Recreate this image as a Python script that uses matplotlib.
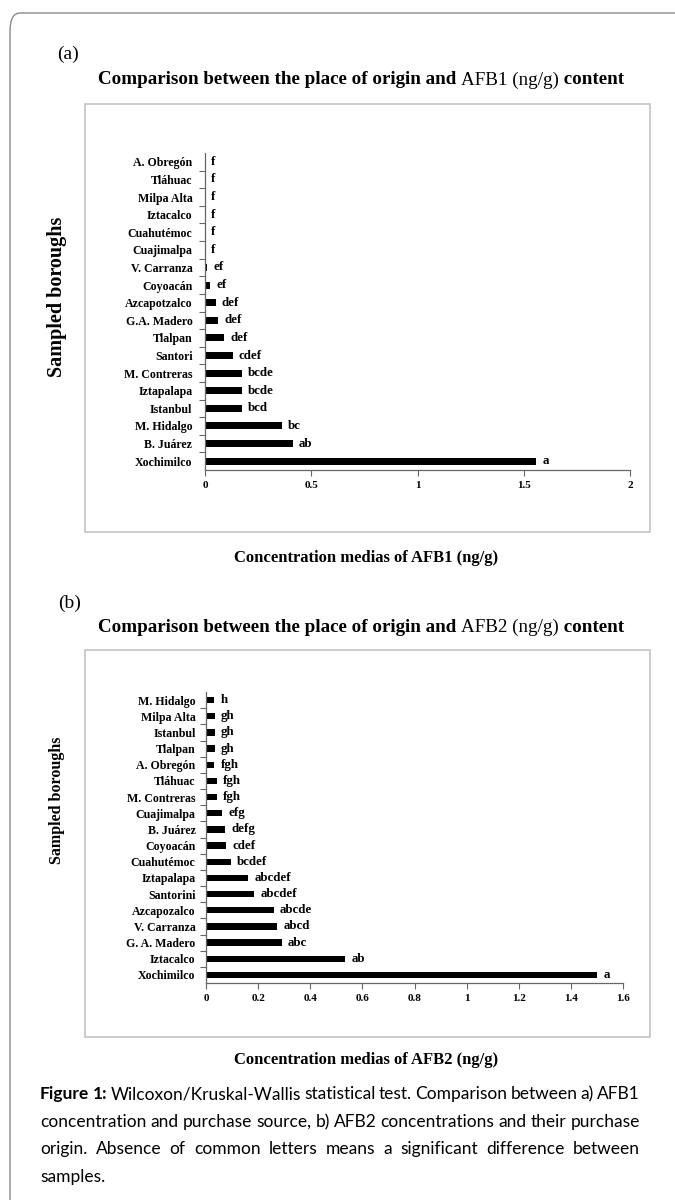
import numpy as np
import matplotlib
matplotlib.use("Agg")
import matplotlib.pyplot as plt
from matplotlib.patches import Rectangle, FancyBboxPatch

# -----------------------------
# Data
# -----------------------------
boroughs_a = ["A. Obregón", "Tláhuac", "Milpa Alta", "Iztacalco", "Cuahutémoc",
              "Cuajimalpa", "V. Carranza", "Coyoacán", "Azcapotzalco", "G.A. Madero",
              "Tlalpan", "Santori", "M. Contreras", "Iztapalapa", "Istanbul",
              "M. Hidalgo", "B. Juárez", "Xochimilco"]
afb1_means = [0.0, 0.0, 0.0, 0.0, 0.0, 0.0, 0.011, 0.024, 0.050, 0.063,
              0.091, 0.130, 0.172, 0.172, 0.172, 0.361, 0.413, 1.558]
letters_a = ["f", "f", "f", "f", "f", "f", "ef", "ef", "def", "def",
             "def", "cdef", "bcde", "bcde", "bcd", "bc", "ab", "a"]
xticks_a = [0, 0.5, 1, 1.5, 2]
xticklabels_a = ["0", "0.5", "1", "1.5", "2"]

boroughs_b = ["M. Hidalgo", "Milpa Alta", "Istanbul", "Tlalpan", "A. Obregón",
              "Tláhuac", "M. Contreras", "Cuajimalpa", "B. Juárez", "Coyoacán",
              "Cuahutémoc", "Iztapalapa", "Santorini", "Azcapozalco", "V. Carranza",
              "G. A. Madero", "Iztacalco", "Xochimilco"]
afb2_means = [0.032, 0.033, 0.033, 0.033, 0.032, 0.042, 0.042, 0.061, 0.072, 0.078,
              0.095, 0.162, 0.184, 0.260, 0.272, 0.290, 0.533, 1.500]
letters_b = ["h", "gh", "gh", "gh", "fgh", "fgh", "fgh", "efg", "defg", "cdef",
             "bcdef", "abcdef", "abcdef", "abcde", "abcd", "abc", "ab", "a"]
xticks_b = [0, 0.2, 0.4, 0.6, 0.8, 1, 1.2, 1.4, 1.6]
xticklabels_b = ["0", "0.2", "0.4", "0.6", "0.8", "1", "1.2", "1.4", "1.6"]

caption_lines = [
    "Figure 1: Wilcoxon/Kruskal-Wallis statistical test. Comparison between a) AFB1",
    "concentration and purchase source, b) AFB2 concentrations and their purchase",
    "origin. Absence of common letters means a significant difference between",
    "samples.",
]

# -----------------------------
# Figure setup
# -----------------------------
W, H = 675, 1200
SERIF = "Liberation Serif"
SANS = "Lato"

fig = plt.figure(figsize=(W / 100, H / 100), dpi=100)
fig.patch.set_facecolor("white")


def fx(px):
    return px / W


def fy(py):
    return 1 - py / H


# outer rounded border (runs off the right and bottom edges)
fig.patches.append(FancyBboxPatch((fx(10), fy(1260)), fx(720), 1260 / H - 13 / H,
                                  boxstyle="round,pad=0,rounding_size=0.015",
                                  transform=fig.transFigure, fill=False,
                                  edgecolor="#8c8c8c", linewidth=1.0))


def panel_frame(top, bottom):
    fig.patches.append(Rectangle((fx(85), fy(bottom)), fx(650 - 85), (bottom - top) / H,
                                 transform=fig.transFigure, fill=False,
                                 edgecolor="#c4c4c4", linewidth=1.2))


def runs_centered(xc, y, runs, size):
    """Draw a line made of (text, weight) pieces, centred on xc (pixels)."""
    r = fig.canvas.get_renderer()
    items = []
    for txt, wt in runs:
        t = fig.text(0, fy(y), txt, fontsize=size, fontweight=wt, family=SERIF,
                     va="center", ha="left")
        items.append(t)
    widths = [t.get_window_extent(renderer=r).width for t in items]
    x = xc - sum(widths) / 2
    for t, w in zip(items, widths):
        t.set_x(fx(x))
        x += w


def draw_panel(ax, names, vals, letters, ticks, ticklabels, xmax, lab_pad):
    n = len(names)
    ypos = np.arange(n)
    ax.barh(ypos, vals, height=0.4, color="black")
    ax.set_ylim(n - 0.5, -0.5)
    ax.set_xlim(0, xmax)
    ax.set_yticks(ypos)
    ax.set_yticklabels(names, fontsize=8.6, fontweight="bold", family=SERIF)
    ax.set_yticks(np.arange(0.5, n - 0.5, 1), minor=True)
    ax.tick_params(axis="y", which="major", length=0, pad=lab_pad)
    ax.tick_params(axis="y", which="minor", length=4, width=0.8, color="#666666",
                   direction="out")
    ax.set_xticks(ticks)
    ax.set_xticklabels(ticklabels, fontsize=8, fontweight="bold", family=SERIF)
    ax.tick_params(axis="x", length=4, width=0.8, color="#666666", pad=4)
    for s in ["top", "right"]:
        ax.spines[s].set_visible(False)
    for s in ["left", "bottom"]:
        ax.spines[s].set_color("#666666")
        ax.spines[s].set_linewidth(0.9)
    for yv, v, lab in zip(ypos, vals, letters):
        ax.annotate(lab, (v, yv), xytext=(4.5, 0), textcoords="offset points",
                    fontsize=9.3, fontweight="bold", family=SERIF,
                    va="center", ha="left")


# -----------------------------
# Panel (a)
# -----------------------------
fig.text(fx(57), fy(54), "(a)", fontsize=14, family=SERIF, va="center", ha="left")
runs_centered(361, 80, [("Comparison between the place of origin and ", "bold"),
                        ("AFB1 (ng/g)", "normal"), (" content", "bold")], 13.7)
panel_frame(104, 532)
ax1 = fig.add_axes([fx(205), fy(470), fx(630 - 205), (470 - 153) / H])
draw_panel(ax1, boroughs_a, afb1_means, letters_a, xticks_a, xticklabels_a, 2, 9)
fig.text(fx(57), fy(297), "Sampled boroughs", rotation=90, fontsize=14.5,
         fontweight="bold", family=SERIF, va="center", ha="center")
fig.text(fx(366), fy(558), "Concentration medias of AFB1 (ng/g)", fontsize=12,
         fontweight="bold", family=SERIF, va="center", ha="center")

# -----------------------------
# Panel (b)
# -----------------------------
fig.text(fx(58), fy(603), "(b)", fontsize=14, family=SERIF, va="center", ha="left")
runs_centered(361, 627, [("Comparison between the place of origin and ", "bold"),
                         ("AFB2 (ng/g)", "normal"), (" content", "bold")], 13.7)
panel_frame(650, 1037)
ax2 = fig.add_axes([fx(206), fy(983), fx(623 - 206), (983 - 692) / H])
draw_panel(ax2, boroughs_b, afb2_means, letters_b, xticks_b, xticklabels_b, 1.6, 7.5)
fig.text(fx(57), fy(800), "Sampled boroughs", rotation=90, fontsize=11.5,
         fontweight="bold", family=SERIF, va="center", ha="center")
fig.text(fx(366), fy(1060), "Concentration medias of AFB2 (ng/g)", fontsize=12,
         fontweight="bold", family=SERIF, va="center", ha="center")

# -----------------------------
# Caption (justified)
# -----------------------------
renderer = fig.canvas.get_renderer()
cap_left, cap_right = 40, 640
cap_y = [1094, 1122, 1149, 1177]
cap_size = 12.5
for i, (line, yline) in enumerate(zip(caption_lines, cap_y)):
    words = line.split(" ")
    texts = []
    for j, w in enumerate(words):
        bold = (i == 0 and j < 2)
        t = fig.text(0, fy(yline), w, fontsize=cap_size, family=SANS,
                     fontweight="bold" if bold else "normal", va="center", ha="left")
        texts.append(t)
    widths = [t.get_window_extent(renderer=renderer).width for t in texts]
    if i < len(caption_lines) - 1 and len(words) > 1:
        gap = ((cap_right - cap_left) - sum(widths)) / (len(words) - 1)
    else:
        gap = cap_size * 0.3
    x = cap_left
    for t, w in zip(texts, widths):
        t.set_x(fx(x))
        x += w + gap

fig.savefig("out.png", dpi=100, facecolor="white")
